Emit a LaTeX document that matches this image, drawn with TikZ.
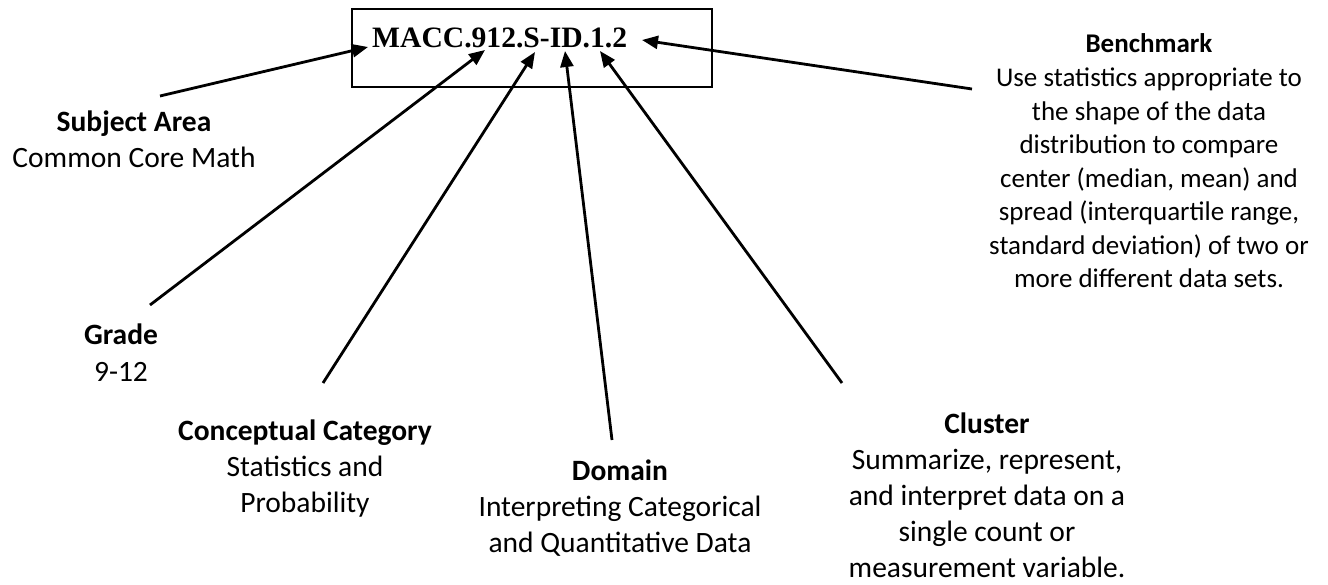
\documentclass[tikz,border=0pt]{standalone}
\usepackage{fontspec}
\setmainfont{Carlito}
\newfontfamily\codefont{Liberation Serif}
\usetikzlibrary{arrows.meta}
\begin{document}
\begin{tikzpicture}[x=1pt,y=-1pt,
  lbl/.style={align=center, inner sep=0pt, anchor=base, font=\fontsize{29.5}{36}\selectfont},
  lblsmall/.style={align=center, inner sep=0pt, anchor=base, font=\fontsize{27}{33.6}\selectfont},
  code/.style={inner sep=0pt, anchor=base west, font=\codefont\bfseries\fontsize{29.6}{34}\selectfont},
  frame/.style={draw, line width=1.6pt, inner sep=0pt},
  conn/.style={line width=2.8pt, -{Triangle[length=16pt,width=13pt]}}]
\useasboundingbox (0,0) rectangle (1328,585);
\node[frame, minimum width=360pt, minimum height=78pt] (box) at (532,48) {};
\node[code] (code) at (372,48) {MACC.912.S-ID.1.2};

% anchor=base is the baseline of the last line
\node[lbl] (subject) at (134,168) {\textbf{Subject Area}\\Common Core Math};
\node[lbl] (grade) at (121,381) {\textbf{Grade}\\9-12};
\node[lbl] (concept) at (305,512) {\textbf{Conceptual Category}\\Statistics and\\Probability};
\node[lbl] (domain) at (620,552) {\textbf{Domain}\\Interpreting Categorical\\and Quantitative Data};
\node[lbl] (cluster) at (987,577) {\textbf{Cluster}\\Summarize, represent,\\and interpret data on a\\single count or\\measurement variable.};
\node[lblsmall] (bench) at (1149,288) {\textbf{Benchmark}\\Use statistics appropriate to\\the shape of the data\\distribution to compare\\center (median, mean) and\\spread (interquartile range,\\standard deviation) of two or\\more different data sets.};

\coordinate (s1) at (160,96);  \coordinate (t1) at (368,47);
\coordinate (s2) at (150,305); \coordinate (t2) at (485,50);
\coordinate (s3) at (323,383); \coordinate (t3) at (535,52);
\coordinate (s4) at (612,440); \coordinate (t4) at (565,51);
\coordinate (s5) at (842,383); \coordinate (t5) at (600,51);
\coordinate (s6) at (972,89);  \coordinate (t6) at (642,40);

\draw[conn] (s1) -- (t1);
\draw[conn] (s2) -- (t2);
\draw[conn] (s3) -- (t3);
\draw[conn] (s4) -- (t4);
\draw[conn] (s5) -- (t5);
\draw[conn] (s6) -- (t6);
\end{tikzpicture}
\end{document}
